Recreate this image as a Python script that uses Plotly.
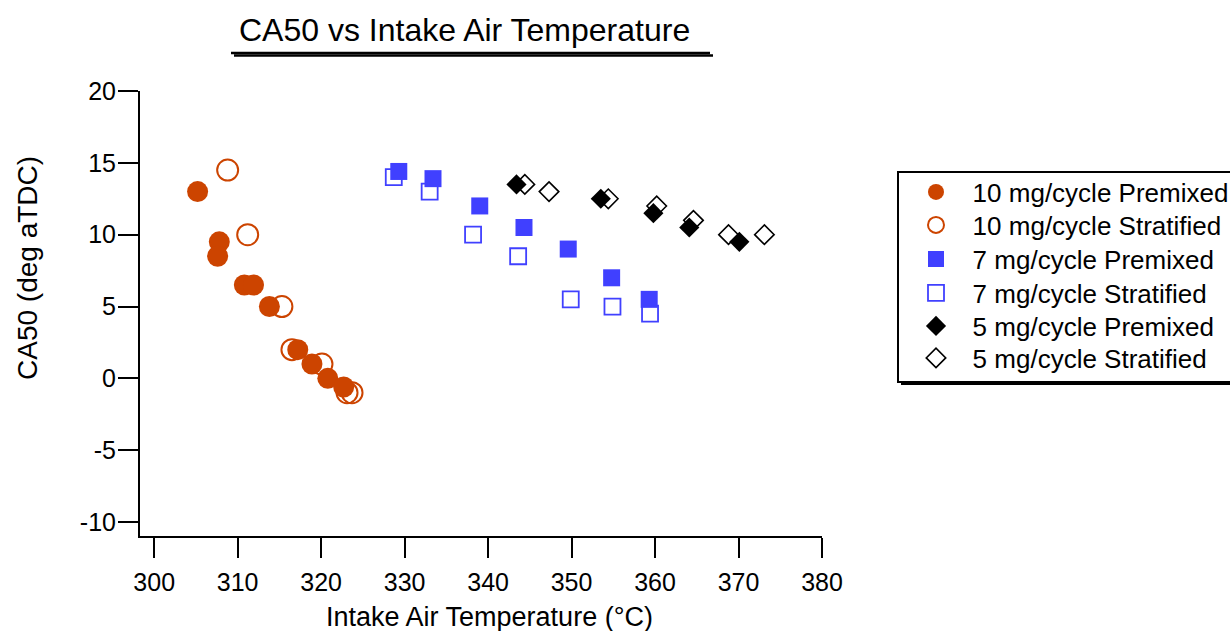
import plotly.graph_objects as go

# Intake air temperature (°C) and CA50 (deg aTDC) for each fuelling / mixture case
temp_10_premixed = [305.2, 307.8, 307.6, 310.8, 311.9, 313.8, 317.2, 318.9, 320.8, 322.7]
ca50_10_premixed = [13.0, 9.5, 8.5, 6.5, 6.5, 5.0, 2.0, 1.0, 0.0, -0.6]

temp_10_stratified = [308.8, 311.2, 315.3, 316.5, 320.1, 323.1, 323.7]
ca50_10_stratified = [14.5, 10.0, 5.0, 2.0, 1.0, -1.0, -1.0]

temp_7_premixed = [329.3, 333.4, 339.0, 344.3, 349.6, 354.8, 359.3]
ca50_7_premixed = [14.4, 13.9, 12.0, 10.5, 9.0, 7.0, 5.5]

temp_7_stratified = [328.7, 333.0, 338.2, 343.6, 349.9, 354.9, 359.4]
ca50_7_stratified = [14.0, 13.0, 10.0, 8.5, 5.5, 5.0, 4.5]

temp_5_premixed = [343.4, 353.5, 359.8, 364.1, 370.1]
ca50_5_premixed = [13.5, 12.5, 11.5, 10.5, 9.5]

temp_5_stratified = [344.4, 347.3, 354.4, 360.2, 364.6, 368.8, 373.1]
ca50_5_stratified = [13.5, 13.0, 12.5, 12.0, 11.0, 10.0, 10.0]

x_ticks = [300, 310, 320, 330, 340, 350, 360, 370, 380]
y_ticks = [-10, -5, 0, 5, 10, 15, 20]
y_tick_text = ["-10", "-5", "0", "5", "10", "15", "20"]

ORANGE = "#CC4400"
BLUE = "#4040FF"
BLACK = "#000000"
FONT = "Liberation Sans, Arial, sans-serif"
PAD = "\u00a0\u00a0\u200a"

W, H = 1230, 631
L, R, T, B = 140, 408, 91, 95
PW, PH = W - L - R, H - T - B


def px_x(p):
    return (p - L) / PW


def px_y(p):
    return (H - B - p) / PH


fig = go.Figure()

# (name, x, y, symbol, size, fill, line colour, line width, legend id, legend row centre)
series = [
    ("10 mg/cycle Stratified", temp_10_stratified, ca50_10_stratified, "circle-open", 21, ORANGE, ORANGE, 2, "legend2", 225),
    ("10 mg/cycle Premixed", temp_10_premixed, ca50_10_premixed, "circle", 21, ORANGE, ORANGE, 0, "legend", 192),
    ("7 mg/cycle Stratified", temp_7_stratified, ca50_7_stratified, "square-open", 16, BLUE, BLUE, 1.8, "legend4", 293),
    ("7 mg/cycle Premixed", temp_7_premixed, ca50_7_premixed, "square", 17, BLUE, BLUE, 0, "legend3", 259),
    ("5 mg/cycle Stratified", temp_5_stratified, ca50_5_stratified, "diamond-open", 15, BLACK, BLACK, 1.6, "legend6", 358),
    ("5 mg/cycle Premixed", temp_5_premixed, ca50_5_premixed, "diamond", 15.5, BLACK, BLACK, 0, "legend5", 326),
]

legend_layouts = {}
for name, xs, ys, sym, size, fill, lc, lw, leg, row_y in series:
    fig.add_trace(go.Scatter(
        x=xs, y=ys, mode="markers", name=PAD + name, legend=leg,
        marker=dict(symbol=sym, size=size, color=fill,
                    line=dict(color=lc, width=lw)),
    ))
    legend_layouts[leg] = dict(
        x=px_x(916), y=px_y(row_y), xanchor="left", yanchor="middle",
        bgcolor="rgba(0,0,0,0)", borderwidth=0,
        font=dict(family=FONT, size=26, color="black"),
    )

axis_common = dict(
    showline=True, linecolor="black", linewidth=2,
    ticks="outside", ticklen=20, tickwidth=2, tickcolor="black",
    showgrid=False, zeroline=False,
    tickfont=dict(family=FONT, size=25, color="black"),
)

fig.update_xaxes(range=[298.3, 380], tickvals=x_ticks, ticklabelstandoff=3, **axis_common)
fig.update_yaxes(range=[-10.97, 20], tickvals=y_ticks, ticktext=y_tick_text,
                 ticklabelstandoff=-3, **axis_common)

# legend frame with drop shadow
lx0, lx1, ly0, ly1 = 898, 1300, 172, 382
fig.add_shape(type="rect", xref="paper", yref="paper", layer="above",
              x0=px_x(lx0 + 3), x1=px_x(lx1 + 3), y0=px_y(ly0 + 3), y1=px_y(ly1 + 3),
              fillcolor="black", line=dict(width=0))
fig.add_shape(type="rect", xref="paper", yref="paper", layer="above",
              x0=px_x(lx0), x1=px_x(lx1), y0=px_y(ly0), y1=px_y(ly1),
              fillcolor="white", line=dict(color="black", width=2))

# title underline with its shadow
fig.add_shape(type="line", xref="paper", yref="paper",
              x0=px_x(234), x1=px_x(713), y0=px_y(55.5), y1=px_y(55.5),
              line=dict(color="black", width=2.5))
fig.add_shape(type="line", xref="paper", yref="paper",
              x0=px_x(231), x1=px_x(710), y0=px_y(53), y1=px_y(53),
              line=dict(color="black", width=2.5))

fig.add_annotation(text="CA50 vs Intake Air Temperature", xref="paper", yref="paper",
                   x=px_x(464), y=px_y(30), xanchor="center", yanchor="middle",
                   showarrow=False, font=dict(family=FONT, size=32, color="black"))
fig.add_annotation(text="Intake Air Temperature (°C)", xref="paper", yref="paper",
                   x=px_x(489), y=px_y(617), xanchor="center", yanchor="middle",
                   showarrow=False, font=dict(family=FONT, size=27, color="black"))
fig.add_annotation(text="CA50 (deg aTDC)", xref="paper", yref="paper",
                   x=px_x(27), y=px_y(268), xanchor="center", yanchor="middle",
                   showarrow=False, textangle=-90,
                   font=dict(family=FONT, size=28, color="black"))

fig.update_layout(
    width=W, height=H,
    margin=dict(l=L, r=R, t=T, b=B, autoexpand=False),
    paper_bgcolor="white", plot_bgcolor="white",
    showlegend=True,
    **legend_layouts,
)

fig.write_html("out.html")
